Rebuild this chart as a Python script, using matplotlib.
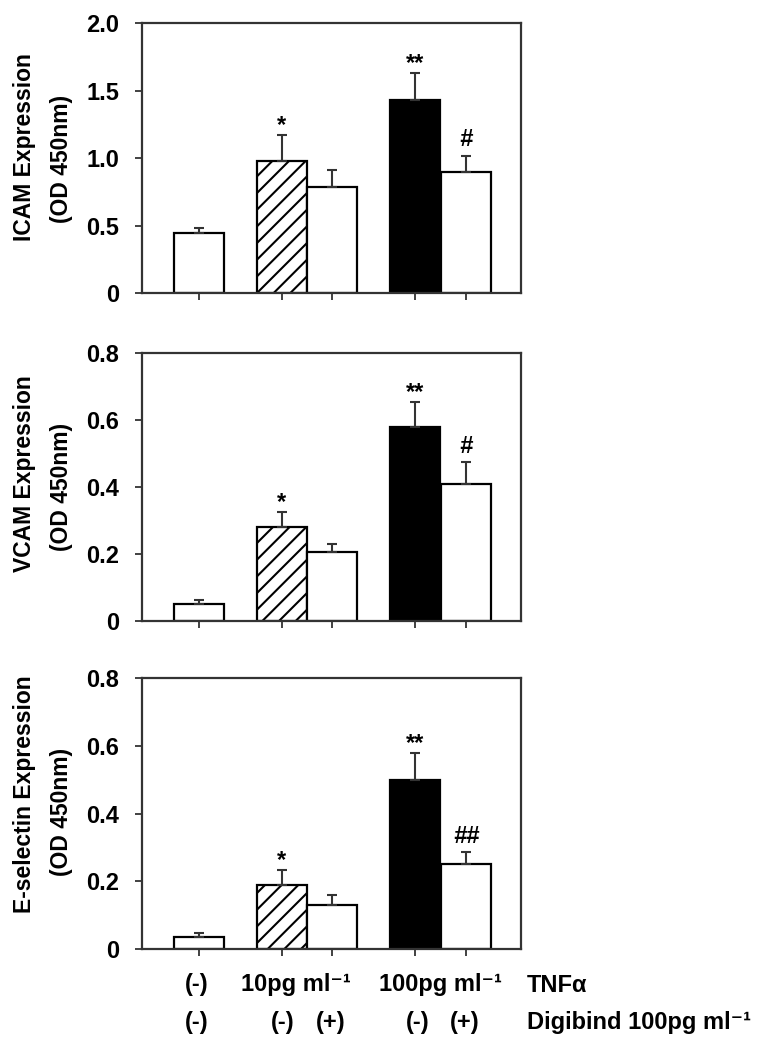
import matplotlib
matplotlib.use("Agg")
import matplotlib.pyplot as plt

plt.rcParams['font.family'] = ['Liberation Sans', 'DejaVu Sans']
plt.rcParams['font.weight'] = 'bold'
plt.rcParams['mathtext.fontset'] = 'custom'
plt.rcParams['mathtext.rm'] = 'Liberation Sans:bold'
plt.rcParams['mathtext.bf'] = 'Liberation Sans:bold'
plt.rcParams['mathtext.default'] = 'bf'
plt.rcParams['hatch.linewidth'] = 1.5

# ---------------- data ----------------
groups = ["control", "TNF10", "TNF10+Digibind", "TNF100", "TNF100+Digibind"]

icam_mean = [0.45, 0.98, 0.79, 1.43, 0.90]
icam_err = [0.03, 0.19, 0.12, 0.20, 0.12]
icam_sig = ["", "*", "", "**", "#"]

vcam_mean = [0.05, 0.28, 0.205, 0.58, 0.41]
vcam_err = [0.012, 0.044, 0.025, 0.075, 0.065]
vcam_sig = ["", "*", "", "**", "#"]

esel_mean = [0.036, 0.19, 0.13, 0.50, 0.252]
esel_err = [0.013, 0.043, 0.031, 0.08, 0.035]
esel_sig = ["", "*", "", "**", "##"]

ylabels = [("ICAM Expression", "(OD 450nm)"),
           ("VCAM Expression", "(OD 450nm)"),
           ("E-selectin Expression", "(OD 450nm)")]
yticks_icam = [0, 0.5, 1.0, 1.5, 2.0]
ytick_labels_icam = ["0", "0.5", "1.0", "1.5", "2.0"]
yticks_small = [0, 0.2, 0.4, 0.6, 0.8]
ytick_labels_small = ["0", "0.2", "0.4", "0.6", "0.8"]

tnf_row = ["(-)", "10pg ml\u207b\u00b9", "100pg ml\u207b\u00b9", "TNF\u03b1"]
dig_row = ["(-)", "(-)", "(+)", "(-)", "(+)", "Digibind 100pg ml\u207b\u00b9"]

# ---------------- layout ----------------
W, H = 771, 1050
fig = plt.figure(figsize=(W / 100, H / 100), dpi=100)

xpos = [0, 1.66, 2.66, 4.33, 5.35]
facecolors = ["white", "white", "white", "black", "white"]
hatches = [None, "//", None, None, None]

def px_axes(left, right, top, bottom):
    return fig.add_axes([left / W, 1 - bottom / H, (right - left) / W, (bottom - top) / H])

panels = [
    (23.3, 293.3, icam_mean, icam_err, icam_sig, yticks_icam, ytick_labels_icam, 2.0, (0.54, 0.497)),
    (353.3, 620.7, vcam_mean, vcam_err, vcam_sig, yticks_small, ytick_labels_small, 0.8, (0.551, 0.502)),
    (678.0, 949.3, esel_mean, esel_err, esel_sig, yticks_small, ytick_labels_small, 0.8, (0.572, 0.506)),
]

for i, (top, bottom, mean, err, sig, yt, ytl, ymax, lab_y) in enumerate(panels):
    ax = px_axes(141.7, 520.7, top, bottom)
    for x, m, fc, h in zip(xpos, mean, facecolors, hatches):
        ax.bar(x, m, width=1.0, color=fc, edgecolor="black", linewidth=1.6,
               hatch=h, zorder=2)
    ax.errorbar(xpos, mean, yerr=[[0] * len(err), err], fmt="none",
                ecolor="#333333", elinewidth=1.5, capsize=3.8, capthick=1.5, zorder=3)
    for x, m, e, s in zip(xpos, mean, err, sig):
        if not s:
            continue
        if s.startswith("*"):
            ax.annotate(s, xy=(x, m + e), xytext=(0, -1.5), textcoords="offset points",
                        ha="center", va="bottom", fontsize=17, fontweight="bold")
        else:
            ax.annotate(s, xy=(x, m + e), xytext=(0, 3), textcoords="offset points",
                        ha="center", va="bottom", fontsize=17, fontweight="bold",
                        fontstyle="italic")
    ax.set_xlim(-1.14, 6.44)
    ax.set_ylim(0, ymax)
    ax.set_yticks(yt)
    ax.set_yticklabels(ytl, fontsize=17, fontweight="bold")
    ax.set_xticks(xpos)
    ax.set_xticklabels([])
    ax.tick_params(axis="both", direction="out", length=5, width=1.3, color="#333333")
    ax.tick_params(axis="y", pad=11)
    for sp in ax.spines.values():
        sp.set_linewidth(1.6)
        sp.set_color("#333333")
    l1, l2 = ylabels[i]
    ax.text(-0.308, lab_y[0], l1, transform=ax.transAxes, rotation=90,
            ha="center", va="center", fontsize=16.5, fontweight="bold")
    ax.text(-0.211, lab_y[1], l2, transform=ax.transAxes, rotation=90,
            ha="center", va="center", fontsize=16.5, fontweight="bold")

# bottom condition rows
def ftext(xpx, ypx, s, ha="center"):
    fig.text(xpx / W, 1 - ypx / H, s, ha=ha, va="center", fontsize=17, fontweight="bold")

row1_y, row2_y = 985, 1023
ftext(197, row1_y, tnf_row[0])
ftext(296, row1_y, tnf_row[1])
ftext(440, row1_y, tnf_row[2])
ftext(527, row1_y, tnf_row[3], ha="left")

for xp, s in zip([197, 283, 331, 418, 465], dig_row[:5]):
    ftext(xp, row2_y, s)
ftext(527, row2_y, dig_row[5], ha="left")

fig.savefig("out.png", dpi=100)
